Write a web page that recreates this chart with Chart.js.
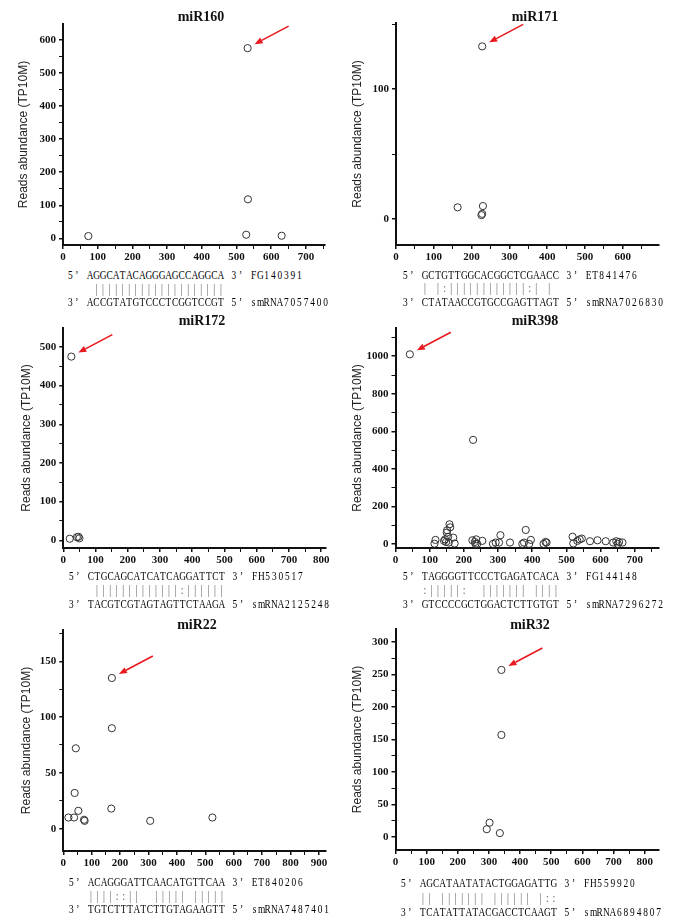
<!DOCTYPE html>
<html lang="en">
<head>
  <meta charset="UTF-8">
  <title>miRNA target reads abundance</title>
  <script src="https://cdn.jsdelivr.net/npm/chart.js"></script>
  <style>
    body {
      margin: 0;
      background: #fff;
      width: 685px;
      height: 921px;
      position: relative;
      overflow: hidden;
    }
    canvas { position: absolute; }
    .title {
      position: absolute;
      font: bold 14px 'Liberation Serif', serif;
      line-height: 16px;
      transform: translateX(-50%);
      white-space: nowrap;
      color: #111;
    }
    .row {
      position: absolute;
      font: 13px 'Liberation Serif', serif;
      line-height: 14px;
      white-space: pre;
      transform: scaleX(0.72);
      transform-origin: 0 50%;
      color: #000;
    }
    .row span { display: inline-block; width: 9.1px; text-align: center; }
    .row.match { transform: translateZ(0); color: #777; font-size: 12px; }
    .row.match span { width: 6.55px; }
  </style>
</head>
<body>
<script>
  // values: x = position, y = reads abundance (TP10M)
  const miR160X = [73, 528, 533, 532, 630];
  const miR160Y = [7, 11, 118, 575, 8];

  const miR171X = [163, 228, 230, 226, 228];
  const miR171Y = [9, 133, 10, 3, 4];

  const miR172X = [20, 25, 42, 50, 47];
  const miR172Y = [4, 475, 8, 5, 9];

  const miR398X = [42, 227, 117, 114, 145, 148, 154, 151, 158, 160, 150, 169, 173, 156, 142, 225, 232, 236, 239, 234,
                   254, 285, 293, 307, 303, 335, 371, 376, 381, 396, 391, 433, 439, 442, 518, 520, 532, 539, 545, 569,
                   591, 615, 637, 646, 654, 664, 650];
  const miR398Y = [1010, 555, 23, 3, 26, 12, 40, 74, 106, 90, 62, 35, 4, 9, 18, 21, 12, 26, 2, 2,
                   18, 2, 9, 48, 9, 9, 2, 9, 76, 23, 2, 2, 12, 9, 40, 4, 18, 26, 30, 16,
                   21, 16, 9, 16, 12, 9, 2];

  const miR22X = [18, 38, 40, 44, 53, 73, 75, 171, 171, 169, 306, 525];
  const miR22Y = [10, 10, 32, 72, 16, 8, 7, 135, 90, 18, 7, 10];

  const miR32X = [340, 340, 302, 293, 335];
  const miR32Y = [257, 157, 22, 12, 6];

  // index of the point the red arrow points at
  const arrowIndex = [3, 1, 1, 0, 7, 0];

  const titles = ['miR160', 'miR171', 'miR172', 'miR398', 'miR22', 'miR32'];
  const seq5 = ['AGGCATACAGGGAGCCAGGCA', 'GCTGTTGGCACGGCTCGAACC', 'CTGCAGCATCATCAGGATTCT',
                'TAGGGGTTCCCTGAGATCACA', 'ACAGGGATTCAACATGTTCAA', 'AGCATAATATACTGGAGATTG'];
  const ids5 = ['FG140391', 'ET841476', 'FH530517', 'FG144148', 'ET840206', 'FH559920'];
  const matches = [' ||||||||||||||||||||', '| |:||||||||||||:| | ', ' |||||||||||||:||||||',
                   ':|||||:  ||||||| ||||', '||||::||  ||||| |||||', '|| ||||||| |||||| |::'];
  const seq3 = ['ACCGTATGTCCCTCGGTCCGT', 'CTATAACCGTGCCGAGTTAGT', 'TACGTCGTAGTAGTTCTAAGA',
                'GTCCCCGCTGGACTCTTGTGT', 'TGTCTTTATCTTGTAGAAGTT', 'TCATATTATACGACCTCAAGT'];
  const ids3 = ['smRNA7057400', 'smRNA7026830', 'smRNA2125248', 'smRNA7296272', 'smRNA7487401', 'smRNA6894807'];

  const xsAll = [miR160X, miR171X, miR172X, miR398X, miR22X, miR32X];
  const ysAll = [miR160Y, miR171Y, miR172Y, miR398Y, miR22Y, miR32Y];

  // axis ranges and steps
  const xMax = [755, 695, 815, 770, 925, 845];
  const yMin = [-20, -20, -20, -20, -20, -20];
  const yMax = [648, 151, 549, 1150, 178, 320];
  const yStep = [50, 50, 50, 100, 25, 25];
  const yLabelStep = [100, 100, 100, 200, 50, 50];

  // page layout of each panel (axis lines, titles, text rows)
  const layout = [
    { col: 0, ax: 63,    at: 24,    ab: 245,   ar: 325,   ytX: 24,  tX: 201, tY: 17,  rX: 67,  rY: [275, 289, 302] },
    { col: 1, ax: 396,   at: 23.3,  ab: 245.7, ar: 658.7, ytX: 358, tX: 535, tY: 17,  rX: 402, rY: [275, 288, 302] },
    { col: 0, ax: 63.3,  at: 328,   ab: 548.3, ar: 326,   ytX: 27,  tX: 202, tY: 321, rX: 67.6, rY: [576, 590, 604] },
    { col: 1, ax: 395.5, at: 328,   ab: 548.3, ar: 658.7, ytX: 358, tX: 535, tY: 321, rX: 402, rY: [576, 590, 604] },
    { col: 0, ax: 63.3,  at: 630,   ab: 850.7, ar: 326,   ytX: 27,  tX: 197, tY: 625, rX: 68,  rY: [882, 895.5, 909.3] },
    { col: 1, ax: 395.5, at: 629.3, ab: 850,   ar: 658.7, ytX: 358, tX: 530, tY: 625, rX: 400, rY: [883, 897.7, 912.3] }
  ];

  const tickFont = { family: 'Liberation Serif', size: 11, weight: 'bold' };

  const arrowPlugin = {
    id: 'redArrow',
    afterDatasetsDraw(chart, args, opts) {
      const pt = chart.getDatasetMeta(0).data[opts.index];
      if (!pt) return;
      const c = chart.ctx;
      const x0 = pt.x + 41, y0 = pt.y - 22;
      const x1 = pt.x + 7, y1 = pt.y - 4;
      const ang = Math.atan2(y1 - y0, x1 - x0);
      const len = 8, half = 3.2;
      const bx = x1 - len * Math.cos(ang), by = y1 - len * Math.sin(ang);
      c.save();
      c.strokeStyle = '#e8191f';
      c.fillStyle = '#e8191f';
      c.lineWidth = 1.6;
      c.beginPath();
      c.moveTo(x0, y0);
      c.lineTo(bx, by);
      c.stroke();
      c.beginPath();
      c.moveTo(x1, y1);
      c.lineTo(bx + half * Math.sin(ang), by - half * Math.cos(ang));
      c.lineTo(bx - half * Math.sin(ang), by + half * Math.cos(ang));
      c.closePath();
      c.fill();
      c.restore();
    }
  };

  function addRow(x, yc, text, cls) {
    const d = document.createElement('div');
    d.className = 'row' + (cls ? ' ' + cls : '');
    d.style.left = x + 'px';
    d.style.top = (yc - 7) + 'px';
    for (const ch of text) {
      const s = document.createElement('span');
      s.textContent = ch;
      d.appendChild(s);
    }
    document.body.appendChild(d);
  }

  layout.forEach((g, i) => {
    const cl = g.col === 0 ? 0 : 337;
    const cw = g.col === 0 ? 340 : 348;
    const padTop = 20;
    const xh = 18;
    const ct = g.at - padTop;
    const ch = g.ab + xh - ct;
    const padL = g.ytX - 11.2 - cl;

    const canvas = document.createElement('canvas');
    canvas.width = cw;
    canvas.height = Math.round(ch);
    canvas.style.left = cl + 'px';
    canvas.style.top = ct + 'px';
    document.body.appendChild(canvas);

    const t = document.createElement('div');
    t.className = 'title';
    t.textContent = titles[i];
    t.style.left = g.tX + 'px';
    t.style.top = (g.tY - 8) + 'px';
    document.body.appendChild(t);

    addRow(g.rX, g.rY[0], '5’ ' + seq5[i] + ' 3’ ' + ids5[i]);
    addRow(g.rX, g.rY[1], '   ' + matches[i], 'match');
    addRow(g.rX, g.rY[2], '3’ ' + seq3[i] + ' 5’ ' + ids3[i]);

    const points = xsAll[i].map((x, k) => ({ x: x, y: ysAll[i][k] }));
    const yLab = yLabelStep[i];

    new Chart(canvas.getContext('2d'), {
      type: 'scatter',
      data: {
        datasets: [{
          data: points,
          pointRadius: 3.6,
          pointBorderWidth: 1,
          pointBorderColor: '#333',
          pointBackgroundColor: 'rgba(0,0,0,0)'
        }]
      },
      plugins: [arrowPlugin],
      options: {
        responsive: false,
        animation: false,
        events: [],
        layout: { padding: { left: padL, top: padTop, right: cl + cw - g.ar, bottom: 0 } },
        plugins: {
          legend: { display: false },
          tooltip: { enabled: false },
          redArrow: { index: arrowIndex[i] }
        },
        scales: {
          x: {
            type: 'linear',
            min: 0,
            max: xMax[i],
            afterFit: s => { s.height = xh; },
            border: { display: true, color: '#111', width: 2 },
            grid: {
              drawOnChartArea: false, drawTicks: true, tickLength: 4, color: '#111',
              lineWidth: c => (c.tick && c.tick.value % 100 === 0) ? 1.5 : 1
            },
            ticks: {
              stepSize: 50, includeBounds: false, autoSkip: false, maxRotation: 0,
              padding: 2, color: '#111', font: tickFont,
              callback: v => (v % 100 === 0 ? v : '')
            }
          },
          y: {
            type: 'linear',
            min: yMin[i],
            max: yMax[i],
            afterFit: s => { s.width = g.ax - cl - padL; },
            border: { display: true, color: '#111', width: 2 },
            grid: {
              drawOnChartArea: false, drawTicks: true, tickLength: 4, color: '#111',
              lineWidth: c => (c.tick && c.tick.value % yLab === 0) ? 1.5 : 1
            },
            ticks: {
              stepSize: yStep[i], includeBounds: false, autoSkip: false,
              padding: 3, color: '#111', font: tickFont,
              callback: v => (v % yLab === 0 ? v : '')
            },
            title: {
              display: true,
              text: 'Reads abundance (TP10M)',
              color: '#222',
              font: { family: 'Liberation Sans', size: 12 }
            }
          }
        }
      }
    });
  });
</script>
</body>
</html>
